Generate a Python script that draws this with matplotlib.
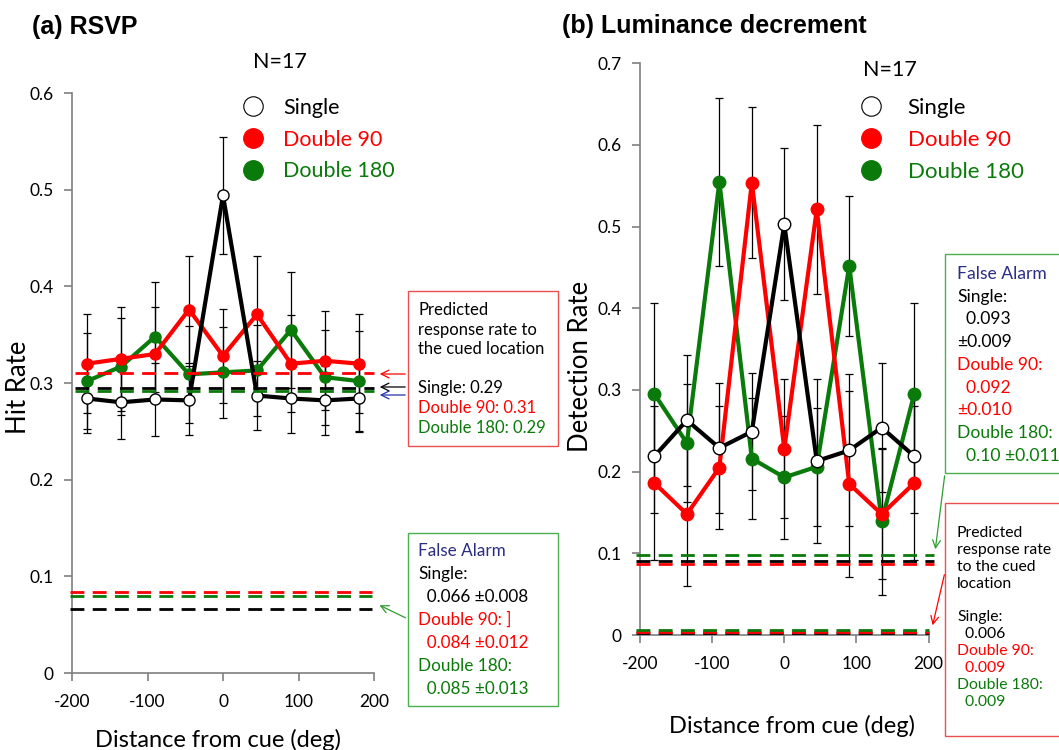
import numpy as np
import matplotlib
matplotlib.use('Agg')
import matplotlib.pyplot as plt
from matplotlib.lines import Line2D
from matplotlib.patches import Rectangle, FancyArrowPatch

plt.rcParams['font.family'] = ['Lato', 'DejaVu Sans']
plt.rcParams['axes.unicode_minus'] = False

# distance from cue (deg)
dist = [-180, -135, -90, -45, 0, 45, 90, 135, 180]

# (a) RSVP hit rates and error bars
rsvp_single = [0.284, 0.280, 0.283, 0.282, 0.494, 0.287, 0.284, 0.282, 0.284]
rsvp_single_err = [0.036, 0.038, 0.038, 0.036, 0.061, 0.036, 0.036, 0.036, 0.035]
rsvp_d90 = [0.320, 0.325, 0.330, 0.376, 0.328, 0.371, 0.320, 0.323, 0.320]
rsvp_d90_err = [0.051, 0.054, 0.049, 0.055, 0.049, 0.060, 0.050, 0.051, 0.051]
rsvp_d180 = [0.302, 0.317, 0.348, 0.309, 0.311, 0.313, 0.355, 0.306, 0.302]
rsvp_d180_err = [0.050, 0.050, 0.057, 0.050, 0.047, 0.047, 0.060, 0.049, 0.052]
rsvp_pred = [0.295, 0.310, 0.292]     # single, d90, d180
rsvp_fa = [0.066, 0.084, 0.080]

# (b) luminance decrement detection rates
lum_single = [0.219, 0.263, 0.229, 0.249, 0.503, 0.213, 0.226, 0.254, 0.219]
lum_single_err = [0.070, 0.080, 0.080, 0.072, 0.093, 0.100, 0.093, 0.079, 0.070]
lum_d90 = [0.186, 0.148, 0.205, 0.554, 0.228, 0.521, 0.185, 0.148, 0.186]
lum_d90_err = [0.094, 0.088, 0.075, 0.093, 0.085, 0.104, 0.114, 0.080, 0.094]
lum_d180 = [0.295, 0.235, 0.555, 0.216, 0.193, 0.206, 0.452, 0.139, 0.295]
lum_d180_err = [0.111, 0.072, 0.103, 0.074, 0.075, 0.072, 0.086, 0.090, 0.111]
lum_fa = [0.090, 0.087, 0.098]
lum_pred = [0.002, 0.004, 0.006]

W, H = 1059, 750
RED = '#ff0000'
GREEN = '#0a7a0a'
NAVY = '#2b2d84'
GRAY = '#7f7f7f'

fig = plt.figure(figsize=(W / 100, H / 100), dpi=100)


def fx(x):
    return x / W


def fy(y):
    return 1 - y / H


def style_axes(ax, ymax):
    ax.set_xlim(-200, 200)
    ax.set_ylim(0, ymax)
    for s in ['top', 'right']:
        ax.spines[s].set_visible(False)
    for s in ['left', 'bottom']:
        ax.spines[s].set_color(GRAY)
        ax.spines[s].set_linewidth(1.2)
    ax.set_xticks([-200, -100, 0, 100, 200])
    ax.set_xticklabels(['-200', '-100', '0', '100', '200'])
    ticks = np.round(np.arange(0, ymax + 0.001, 0.1), 1)
    ax.set_yticks(ticks)
    ax.set_yticklabels(['%g' % t for t in ticks])
    ax.tick_params(colors=GRAY, labelcolor='black', labelsize=12.5,
                   length=6, width=1.2)
    ax.tick_params(axis='x', pad=9)
    ax.tick_params(axis='y', pad=7)


def draw_panel(ax, single, s_err, d90, d90_err, d180, d180_err, ms):
    for y, e in [(d180, d180_err), (d90, d90_err), (single, s_err)]:
        ax.errorbar(dist, y, yerr=e, fmt='none', ecolor='black',
                    elinewidth=0.9, capsize=3, capthick=0.9, zorder=2)
    ax.plot(dist, d180, '-o', color=GREEN, lw=3, ms=ms, zorder=3)
    ax.plot(dist, d90, '-o', color=RED, lw=3, ms=ms, zorder=4)
    ax.plot(dist, single, '-o', color='black', lw=3, ms=ms,
            mfc='white', mec='black', mew=1, zorder=5)


def legend(ax, x, y, size, spacing):
    handles = [Line2D([], [], ls='none', marker='o', ms=14, mfc='white', mec='black', mew=0.8),
               Line2D([], [], ls='none', marker='o', ms=14, color=RED),
               Line2D([], [], ls='none', marker='o', ms=14, color=GREEN)]
    ax.legend(handles, ['Single', 'Double 90', 'Double 180'], loc='upper left',
              bbox_to_anchor=(fx(x), fy(y)), bbox_transform=fig.transFigure,
              frameon=False, fontsize=size, labelcolor=['black', RED, GREEN],
              handlelength=1.0, handletextpad=spacing, labelspacing=0.54,
              borderpad=0, borderaxespad=0)


def box_text(lines, x, y0, dy, size):
    for i, (t, c) in enumerate(lines):
        fig.text(fx(x), fy(y0 + i * dy), t, color=c, fontsize=size,
                 va='center', ha='left')


def arrow(x0, y0, x1, y1, color, lw=0.9):
    fig.add_artist(FancyArrowPatch((fx(x0), fy(y0)), (fx(x1), fy(y1)),
                                   transform=fig.transFigure, arrowstyle='->',
                                   mutation_scale=14, color=color, lw=lw))


def rect(x0, y0, x1, y1, color):
    fig.add_artist(Rectangle((fx(x0), fy(y1)), fx(x1) - fx(x0), fy(y0) - fy(y1),
                             transform=fig.transFigure, fill=False,
                             edgecolor=color, lw=1.0))


# ---------------- (a) RSVP ----------------
axL = fig.add_axes([fx(72), fy(673), (374 - 72) / W, (673 - 93) / H])
style_axes(axL, 0.6)
draw_panel(axL, rsvp_single, rsvp_single_err, rsvp_d90, rsvp_d90_err,
           rsvp_d180, rsvp_d180_err, 8)
for yv, c in zip(rsvp_pred, ['black', RED, GREEN]):
    axL.hlines(yv, -196, 200, colors=c, linestyles=(0, (5, 3)), lw=2,
               clip_on=False, zorder=6)
for yv, c in zip(rsvp_fa, ['black', RED, GREEN]):
    axL.hlines(yv, -202, 198, colors=c, linestyles=(0, (5, 3)), lw=2,
               clip_on=False, zorder=6)
axL.set_xlabel('Distance from cue (deg)', fontsize=17)
axL.xaxis.set_label_coords((218 - 72) / 302, (673 - 740) / 580)
axL.xaxis.label.set_va('center')
axL.set_ylabel('Hit Rate', fontsize=18.5)
axL.yaxis.set_label_coords((18.5 - 72) / 302, 0.492)
axL.yaxis.label.set_va('center')
legend(axL, 242, 98, 15.5, 0.9)

fig.text(fx(32), fy(27), '(a) RSVP', fontsize=18, fontweight='bold',
         family='Liberation Sans', va='center')
fig.text(fx(280), fy(62), 'N=17', fontsize=15.5, ha='center', va='center')

rect(408, 291, 558, 446, '#e85050')
box_text([('Predicted', 'black'), ('response rate to', 'black'),
          ('the cued location', 'black')], 418, 310, 19.5, 12)
box_text([('Single: 0.29', 'black'), ('Double 90: 0.31', RED),
          ('Double 180: 0.29', GREEN)], 418, 388, 20, 12)
arrow(408, 374, 377, 374, RED)
arrow(408, 387, 377, 387, 'black')
arrow(408, 395, 377, 395, '#2233aa')

rect(408, 533, 558, 706, '#4caf50')
box_text([('False Alarm', NAVY), ('Single:', 'black'), ('  0.066 \u00b10.008', 'black'),
          ('Double 90: ]', RED), ('  0.084 \u00b10.012', RED),
          ('Double 180:', GREEN), ('  0.085 \u00b10.013', GREEN)],
         418, 551, 23, 12.3)
arrow(408, 619, 377, 604, '#2e9e2e')

# ---------------- (b) Luminance decrement ----------------
axR = fig.add_axes([fx(640), fy(635), (928.6 - 640) / W, (635 - 63.3) / H])
style_axes(axR, 0.7)
draw_panel(axR, lum_single, lum_single_err, lum_d90, lum_d90_err,
           lum_d180, lum_d180_err, 9)
for yv, c in zip(lum_fa, ['black', RED, GREEN]):
    axR.hlines(yv, -205, 208, colors=c, linestyles=(0, (5, 3)), lw=2,
               clip_on=False, zorder=6)
for yv, c in zip(lum_pred, ['black', RED, GREEN]):
    axR.hlines(yv, -205, 200, colors=c, linestyles=(0, (5, 3)), lw=2,
               clip_on=False, zorder=6)
axR.set_xlabel('Distance from cue (deg)', fontsize=17)
axR.xaxis.set_label_coords((792 - 640) / 288.6, (635 - 726) / 571.7)
axR.xaxis.label.set_va('center')
axR.set_ylabel('Detection Rate', fontsize=18.5)
axR.yaxis.set_label_coords((580 - 640) / 288.6, 0.47)
axR.yaxis.label.set_va('center')
legend(axR, 860, 98, 16, 1.15)

fig.text(fx(562), fy(26), '(b) Luminance decrement', fontsize=18,
         fontweight='bold', family='Liberation Sans', va='center')
fig.text(fx(890), fy(70), 'N=17', fontsize=15.5, ha='center', va='center')

rect(945, 254, 1075, 473, '#4caf50')
box_text([('False Alarm', NAVY), ('Single:', 'black'), ('  0.093', 'black'),
          ('\u00b10.009', 'black'), ('Double 90:', RED), ('  0.092', RED),
          ('\u00b10.010', RED), ('Double 180:', GREEN), ('  0.10 \u00b10.011', GREEN)],
         957, 274, 22.7, 12.6)
arrow(945, 473, 935, 552, '#2e9e2e')

rect(945, 503, 1075, 736, '#e85050')
box_text([('Predicted', 'black'), ('response rate', 'black'), ('to the cued', 'black'),
          ('location', 'black'), ('', 'black'), ('Single:', 'black'), ('  0.006', 'black'),
          ('Double 90:', RED), ('  0.009', RED), ('Double 180:', GREEN),
          ('  0.009', GREEN)], 957, 533, 16.9, 11.3)
arrow(945, 572, 932, 628, RED)

fig.savefig('out.png', dpi=100)
